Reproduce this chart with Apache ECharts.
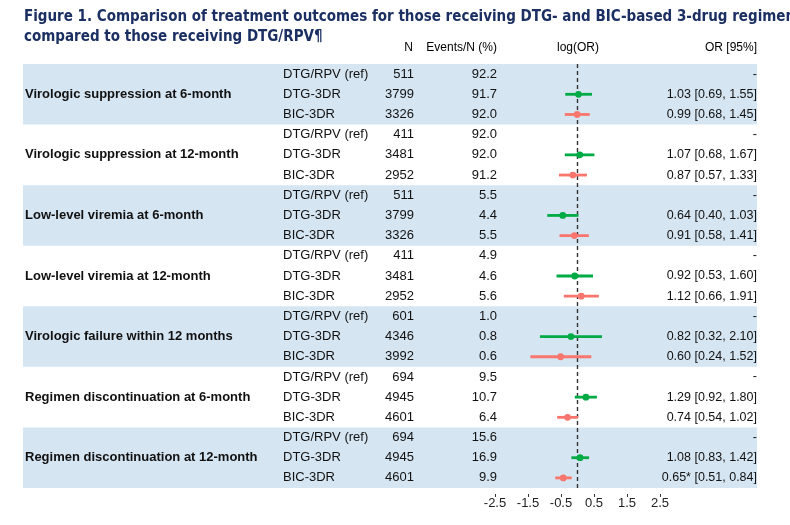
<!DOCTYPE html>
<html>
<head>
<meta charset="utf-8">
<script src="https://cdn.jsdelivr.net/npm/echarts@6/dist/echarts.min.js"></script>
<style>
html,body{margin:0;padding:0;background:#fff;}
#chart{width:790px;height:525px;}
</style>
</head>
<body>
<div id="chart"></div>
<script>
// ---------- data ----------
const titleText = 'Figure 1. Comparison of treatment outcomes for those receiving DTG- and BIC-based 3-drug regimens\ncompared to those receiving DTG/RPV¶';
const headerLabels = ['N', 'Events/N (%)', 'log(OR)', 'OR [95%]'];
const outcomes = [
  'Virologic suppression at 6-month',
  'Virologic suppression at 12-month',
  'Low-level viremia at 6-month',
  'Low-level viremia at 12-month',
  'Virologic failure within 12 months',
  'Regimen discontinuation at 6-month',
  'Regimen discontinuation at 12-month'
];
const arms = ['DTG/RPV (ref)', 'DTG-3DR', 'BIC-3DR'];
const nValues = [511, 3799, 3326, 411, 3481, 2952, 511, 3799, 3326, 411, 3481, 2952, 601, 4346, 3992, 694, 4945, 4601, 694, 4945, 4601];
const eventPct = [92.2, 91.7, 92.0, 92.0, 92.0, 91.2, 5.5, 4.4, 5.5, 4.9, 4.6, 5.6, 1.0, 0.8, 0.6, 9.5, 10.7, 6.4, 15.6, 16.9, 9.9];
const dtgOR = [1.03, 1.07, 0.64, 0.92, 0.82, 1.29, 1.08];
const dtgLo = [0.69, 0.68, 0.40, 0.53, 0.32, 0.92, 0.83];
const dtgHi = [1.55, 1.67, 1.03, 1.60, 2.10, 1.80, 1.42];
const bicOR = [0.99, 0.87, 0.91, 1.12, 0.60, 0.74, 0.65];
const bicLo = [0.68, 0.57, 0.58, 0.66, 0.24, 0.54, 0.51];
const bicHi = [1.45, 1.33, 1.41, 1.91, 1.52, 1.02, 0.84];
const bicSignificant = [false, false, false, false, false, false, true];
const xTickValues = [-2.5, -1.5, -0.5, 0.5, 1.5, 2.5];

// ---------- derived ----------
const nRows = outcomes.length * arms.length;
const rowKeys = Array.from({length: nRows}, (_, i) => 'r' + i);
const fmt2 = v => v.toFixed(2);
const orText = [];
for (let g = 0; g < outcomes.length; g++) {
  orText.push('-');
  orText.push(fmt2(dtgOR[g]) + ' [' + fmt2(dtgLo[g]) + ', ' + fmt2(dtgHi[g]) + ']');
  orText.push(fmt2(bicOR[g]) + (bicSignificant[g] ? '*' : '') + ' [' + fmt2(bicLo[g]) + ', ' + fmt2(bicHi[g]) + ']');
}

// ---------- layout / style ----------
const TXT = 'Liberation Sans, Arial, sans-serif';
const bandLeft = 23, bandRight = 757;
const BLUE_BAND = '#D5E5F2';
const GREEN = '#00AA45';
const RED = '#F8766D';

function textSeries(name, xPos, align, data, font) {
  return {
    type: 'custom', name: name, xAxisIndex: 0, yAxisIndex: 0, z: 5, silent: true,
    data: data,
    encode: {y: 0},
    renderItem: function (params, api) {
      const row = api.value(0);
      const p = api.coord([xPos, row]);
      return {
        type: 'text', x: p[0], y: p[1],
        style: {
          text: data[params.dataIndex][1], fill: '#111', font: font,
          align: align, verticalAlign: 'middle', textAlign: align, textVerticalAlign: 'middle'
        }
      };
    }
  };
}

const groupLabelData = outcomes.map((o, g) => [g * 3 + 1, o]);
const armData = rowKeys.map((_, i) => [i, arms[i % 3]]);
const nData = nValues.map((v, i) => [i, String(v)]);
const evData = eventPct.map((v, i) => [i, v.toFixed(1)]);
const orData = orText.map((t, i) => [i, t]);
const bandData = outcomes.map((_, g) => [g * 3, g]).filter(d => d[1] % 2 === 0);

function forestSeries(name, color, ors, los, his, rowOffset) {
  const data = ors.map((v, g) => [g * 3 + rowOffset, Math.log(los[g]), Math.log(his[g]), Math.log(v)]);
  return {
    type: 'custom', name: name, xAxisIndex: 1, yAxisIndex: 1, z: 10, silent: true,
    data: data,
    encode: {y: 0, x: [1, 2, 3]},
    renderItem: function (params, api) {
      const row = api.value(0);
      const a = api.coord([api.value(1), row]);
      const b = api.coord([api.value(2), row]);
      const c = api.coord([api.value(3), row]);
      return {
        type: 'group',
        children: [
          {type: 'line', shape: {x1: a[0], y1: a[1], x2: b[0], y2: b[1]}, style: {stroke: color, lineWidth: 2.8}},
          {type: 'circle', shape: {cx: c[0], cy: c[1], r: 3.4}, style: {fill: color}}
        ]
      };
    }
  };
}

const bandSeries = {
  type: 'custom', name: 'bands', xAxisIndex: 0, yAxisIndex: 0, z: 1, silent: true,
  data: bandData,
  encode: {y: 0},
  renderItem: function (params, api) {
    const r0 = api.value(0);
    const p0 = api.coord([bandLeft, r0]);
    const p1 = api.coord([bandRight, r0]);
    const h = api.size([0, 1])[1];
    return {
      type: 'rect',
      shape: {x: p0[0], y: p0[1] - h / 2, width: p1[0] - p0[0], height: h * 3},
      style: {fill: BLUE_BAND}
    };
  }
};

const refSeries = forestSeries('DTG-3DR', GREEN, dtgOR, dtgLo, dtgHi, 1);
refSeries.markLine = {
  silent: true, symbol: 'none', label: {show: false},
  lineStyle: {color: '#333', width: 1.4, type: [4, 3]},
  data: [{xAxis: 0}]
};

const option = {
  animation: false,
  backgroundColor: '#fff',
  title: {
    text: titleText, left: 24, top: 7, padding: 0,
    textStyle: {fontFamily: 'DejaVu Sans Condensed, DejaVu Sans, sans-serif', fontWeight: 'bold', fontSize: 15, color: '#1C2F62', lineHeight: 20}
  },
  graphic: [
    {type: 'text', x: 413, y: 48, style: {text: headerLabels[0], font: '12px ' + TXT, fill: '#000', align: 'right', verticalAlign: 'middle'}},
    {type: 'text', x: 497, y: 48, style: {text: headerLabels[1], font: '12px ' + TXT, fill: '#000', align: 'right', verticalAlign: 'middle'}},
    {type: 'text', x: 578, y: 48, style: {text: headerLabels[2], font: '12px ' + TXT, fill: '#000', align: 'center', verticalAlign: 'middle'}},
    {type: 'text', x: 757, y: 48, style: {text: headerLabels[3], font: '12px ' + TXT, fill: '#000', align: 'right', verticalAlign: 'middle'}}
  ],
  grid: [
    {left: 0, width: 790, top: 64, height: 424},
    {left: 495, width: 165, top: 64, height: 424}
  ],
  xAxis: [
    {gridIndex: 0, type: 'value', min: 0, max: 790, show: false},
    {
      gridIndex: 1, type: 'value', min: -2.5, max: 2.5, offset: 6,
      axisLine: {show: false},
      axisTick: {show: true, length: 3, customValues: xTickValues, lineStyle: {color: '#333'}},
      axisLabel: {customValues: xTickValues, fontSize: 13, color: '#222', margin: 3, fontFamily: TXT},
      splitLine: {show: false}
    }
  ],
  yAxis: [
    {gridIndex: 0, type: 'category', data: rowKeys, inverse: true, show: false},
    {gridIndex: 1, type: 'category', data: rowKeys, inverse: true, show: false}
  ],
  series: [
    bandSeries,
    textSeries('group', 25, 'left', groupLabelData, 'bold 13px ' + TXT),
    textSeries('arm', 283, 'left', armData, '13px ' + TXT),
    textSeries('n', 414, 'right', nData, '13px ' + TXT),
    textSeries('events', 497, 'right', evData, '13px ' + TXT),
    textSeries('or', 757, 'right', orData, '12.5px ' + TXT),
    refSeries,
    forestSeries('BIC-3DR', RED, bicOR, bicLo, bicHi, 2)
  ]
};

const chart = echarts.init(document.getElementById('chart'), null, {renderer: 'canvas'});
chart.setOption(option);
</script>
</body>
</html>
